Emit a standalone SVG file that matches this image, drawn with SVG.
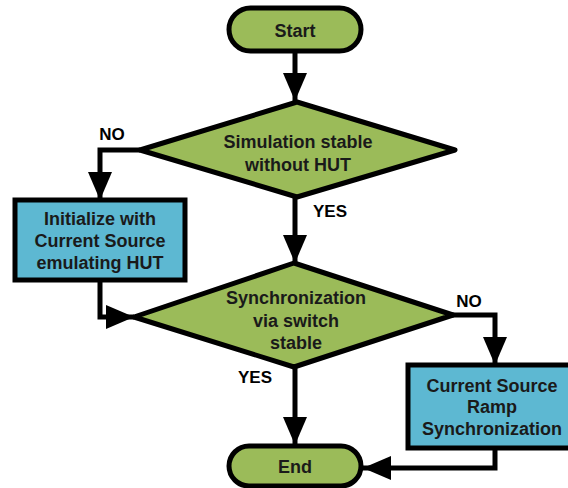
<svg xmlns="http://www.w3.org/2000/svg" width="568" height="488" viewBox="0 0 568 488">
<defs>
<style>
.term{fill:#9BBB59;stroke:#000;stroke-width:5}
.dec{fill:#9BBB59;stroke:#000;stroke-width:5;stroke-linejoin:round}
.proc{fill:#5DB8D2;stroke:#000;stroke-width:5}
.t{font-family:"Liberation Sans",Arial,sans-serif;font-weight:bold;font-size:18px;fill:#1a1a1a;text-anchor:middle}
.lbl{font-family:"Liberation Sans",Arial,sans-serif;font-weight:bold;font-size:17px;fill:#000;text-anchor:middle}
.c{fill:none;stroke:#000;stroke-width:5}
</style>
<marker id="ah" viewBox="0 0 28 24" refX="28" refY="12" markerWidth="28" markerHeight="24" markerUnits="userSpaceOnUse" orient="auto">
<path d="M0,0 L28,12 L0,24 Z" fill="#000"/>
</marker>
</defs>
<g id="connectors">
<path class="c" d="M295,53 V101" marker-end="url(#ah)"/>
<path class="c" d="M140,150 H100 V200" marker-end="url(#ah)"/>
<path class="c" d="M295,197 V263" marker-end="url(#ah)"/>
<path class="c" d="M100,280 V317 H134" marker-end="url(#ah)"/>
<path class="c" d="M452,315 H495 V365" marker-end="url(#ah)"/>
<path class="c" d="M295,367 V445" marker-end="url(#ah)"/>
<path class="c" d="M495,448 V468 H363" marker-end="url(#ah)"/>
<text class="lbl" x="112" y="140">NO</text>
<text class="lbl" x="330" y="217">YES</text>
<text class="lbl" x="469" y="307">NO</text>
<text class="lbl" x="255" y="383">YES</text>
</g>
<g id="start">
<rect class="term" x="229" y="8" width="132" height="43" rx="21.5"/>
<text class="t" x="295" y="37">Start</text>
</g>
<g id="decision1">
<polygon class="dec" points="297,102 455,150 297,197 140,150"/>
<text class="t" x="298" y="148">Simulation stable</text>
<text class="t" x="298" y="171">without HUT</text>
</g>
<g id="init">
<rect class="proc" x="15" y="200" width="170" height="80"/>
<text class="t" x="100" y="225">Initialize with</text>
<text class="t" x="100" y="247">Current Source</text>
<text class="t" x="100" y="269">emulating HUT</text>
</g>
<g id="decision2">
<polygon class="dec" points="294,263 453,315 294,367 134,317"/>
<text class="t" x="296" y="304">Synchronization</text>
<text class="t" x="296" y="327">via switch</text>
<text class="t" x="296" y="349">stable</text>
</g>
<g id="ramp">
<rect class="proc" x="408" y="365" width="164" height="83"/>
<text class="t" x="492" y="392">Current Source</text>
<text class="t" x="492" y="413">Ramp</text>
<text class="t" x="492" y="435">Synchronization</text>
</g>
<g id="end">
<rect class="term" x="229" y="446" width="132" height="40" rx="20"/>
<text class="t" x="295" y="473">End</text>
</g>
</svg>
